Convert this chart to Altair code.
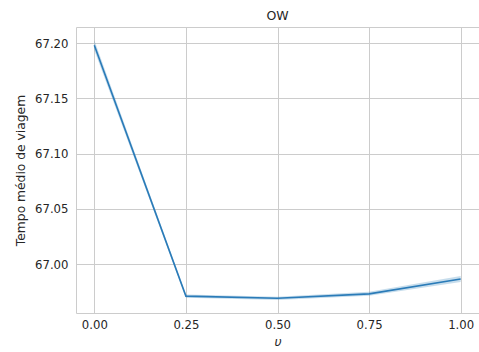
import altair as alt
import pandas as pd

u_values = [0.0, 0.25, 0.5, 0.75, 1.0]
mean_time = [67.198, 66.971, 66.969, 66.973, 66.9865]
ci_low = [67.1935, 66.9695, 66.9675, 66.9712, 66.9838]
ci_high = [67.2025, 66.9725, 66.9705, 66.9750, 66.9892]

df = pd.DataFrame({"u": u_values, "mean": mean_time, "lo": ci_low, "hi": ci_high})

font = "DejaVu Sans"
x = alt.X("u:Q", scale=alt.Scale(domain=[-0.05, 1.05], nice=False, zero=False),
          axis=alt.Axis(values=u_values, format=".2f", title="υ", titleFontStyle="italic"))
y_scale = alt.Scale(domain=[66.9557, 67.2145], nice=False, zero=False)

band = alt.Chart(df).mark_area(color="#1f77b4", opacity=0.25).encode(
    x=x,
    y=alt.Y("lo:Q", scale=y_scale,
            axis=alt.Axis(values=[67.0, 67.05, 67.1, 67.15, 67.2], format=".2f",
                          title="Tempo médio de viagem")),
    y2="hi:Q",
)
line = alt.Chart(df).mark_line(color="#2a7bb8", strokeWidth=1.6).encode(
    x=x, y=alt.Y("mean:Q", scale=y_scale)
)

chart = (band + line).properties(
    width=403, height=286,
    title=alt.Title("OW", fontSize=12.5, font=font, fontWeight="normal", color="#262626", offset=5),
    autosize=alt.AutoSizeParams(type="none"),
    padding={"left": 76, "top": 27, "right": 0, "bottom": 39},
).configure_view(stroke="#cccccc", strokeWidth=1).configure_axis(
    grid=True, gridColor="#cccccc", gridWidth=1, domain=False, ticks=False,
    labelFont=font, labelFontSize=11.7, labelColor="#262626",
    titleFont=font, titleFontSize=12.3, titleColor="#262626", titleFontWeight="normal",
).configure_axisX(labelPadding=6, titlePadding=5).configure_axisY(labelPadding=8, titlePadding=7)

chart.save("out.html", embed_options={"renderer": "svg", "actions": False})
